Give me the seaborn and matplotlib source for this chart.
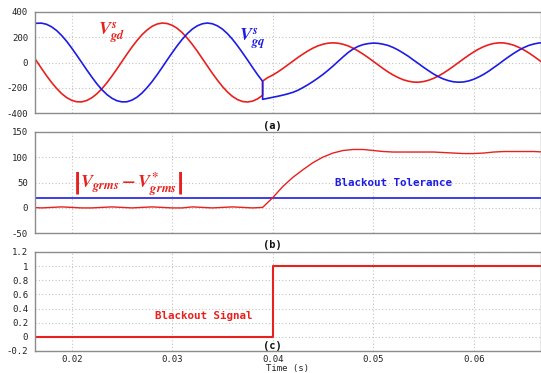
"""
Grid voltage blackout detection
- (a) dq grid voltages
- (b) rms voltage error vs blackout tolerance
- (c) blackout signal
"""

import matplotlib
matplotlib.use('Agg')
import matplotlib.pyplot as plt
import seaborn as sns

# ---- data (time in s) ----
# panel (a): before the disturbance, 0.5 ms samples
t_pre = [0.0160, 0.0165, 0.0170, 0.0175, 0.0180, 0.0185, 0.0190, 0.0195,
         0.0200, 0.0205, 0.0210, 0.0215, 0.0220, 0.0225, 0.0230, 0.0235,
         0.0240, 0.0245, 0.0250, 0.0255, 0.0260, 0.0265, 0.0270, 0.0275,
         0.0280, 0.0285, 0.0290, 0.0295, 0.0300, 0.0305, 0.0310, 0.0315,
         0.0320, 0.0325, 0.0330, 0.0335, 0.0340, 0.0345, 0.0350, 0.0355,
         0.0360, 0.0365, 0.0370, 0.0375, 0.0380, 0.0385, 0.0390]
vgd_pre = [70, 12, -47, -104, -157, -204, -245, -276,
           -298, -309, -310, -299, -278, -247, -207, -160,
           -107, -51, 8, 66, 122, 173, 219, 256,
           285, 303, 311, 307, 293, 269, 235, 192,
           143, 89, 31, -27, -85, -139, -189, -232,
           -267, -292, -307, -311, -304, -286, -258]
vgq_pre = [296, 309, 310, 301, 281, 252, 213, 167,
           114, 58, 0, -58, -114, -167, -213, -252,
           -281, -301, -310, -309, -296, -273, -240, -198,
           -150, -96, -39, 20, 77, 132, 183, 227,
           263, 289, 305, 311, 305, 289, 263, 227,
           183, 132, 77, 20, -39, -96, -148]

# panel (a): after the disturbance
t_post = [0.0390, 0.0395, 0.0400, 0.0405, 0.0410, 0.0415, 0.0420, 0.0425,
          0.0430, 0.0435, 0.0440, 0.0445, 0.0450, 0.0455, 0.0460, 0.0465,
          0.0470, 0.0475, 0.0480, 0.0485, 0.0490, 0.0495, 0.0500, 0.0505,
          0.0510, 0.0515, 0.0520, 0.0525, 0.0530, 0.0535, 0.0540, 0.0545,
          0.0550, 0.0555, 0.0560, 0.0565, 0.0570, 0.0575, 0.0580, 0.0585,
          0.0590, 0.0595, 0.0600, 0.0605, 0.0610, 0.0615, 0.0620, 0.0625,
          0.0630, 0.0635, 0.0640, 0.0645, 0.0650, 0.0655, 0.0660, 0.0665,
          0.0670]
vgd_post = [-146, -119, -99, -75, -48, -19, 10, 39,
            66, 91, 113, 131, 144, 152, 155, 152,
            144, 131, 113, 91, 66, 39, 10, -19,
            -48, -75, -99, -119, -136, -147, -154, -155,
            -150, -140, -125, -106, -83, -57, -29, 0,
            29, 57, 83, 106, 125, 140, 150, 155,
            154, 147, 136, 119, 99, 75, 48, 19,
            -10]
vgq_post = [-290, -282, -274, -266, -257, -247, -235, -219,
            -198, -175, -150, -123, -94, -62, -28, 8,
            44, 78, 106, 127, 141, 149, 153, 151,
            144, 134, 118, 98, 74, 49, 20, -8,
            -37, -64, -90, -112, -130, -143, -152, -155,
            -153, -145, -132, -114, -93, -68, -40, -12,
            18, 46, 73, 97, 118, 135, 146, 154,
            155]

# panel (b): |Vgrms - Vgrms*|
t_rms = [0.016, 0.017, 0.018, 0.019, 0.020, 0.021, 0.022, 0.023, 0.024, 0.025,
         0.026, 0.027, 0.028, 0.029, 0.030, 0.031, 0.032, 0.033, 0.034, 0.035,
         0.036, 0.037, 0.038, 0.039, 0.040, 0.041, 0.042, 0.043, 0.044, 0.045,
         0.046, 0.047, 0.048, 0.049, 0.050, 0.051, 0.052, 0.053, 0.054, 0.055,
         0.056, 0.057, 0.058, 0.059, 0.060, 0.061, 0.062, 0.063, 0.064, 0.065,
         0.066, 0.067]
v_err = [1, 0, 1, 2, 1, 0, 0, 1, 2, 1,
         0, 1, 2, 1, 0, 0, 2, 1, 0, 1,
         2, 1, 0, 1, 20, 42, 60, 75, 89, 100,
         108, 113, 115, 115, 113, 111, 110, 110, 110, 110,
         110, 109, 108, 107, 107, 108, 110, 111, 111, 111,
         111, 110]
t_tol = [0.016, 0.067]
v_tol = [20, 20]

# panel (c): blackout signal
t_sig = [0.016, 0.040, 0.067]
v_sig = [0, 1, 1]

x_ticks = [0.02, 0.03, 0.04, 0.05, 0.06]
x_labels = ['0.02', '0.03', '0.04', '0.05', '0.06']
a_ticks = [-400, -200, 0, 200, 400]
b_ticks = [-50, 0, 50, 100, 150]
c_ticks = [-0.2, 0, 0.2, 0.4, 0.6, 0.8, 1, 1.2]
c_labels = ['-0.2', '0', '0.2', '0.4', '0.6', '0.8', '1', '1.2']

RED = '#e8201e'
BLUE = '#1c1ce6'

sns.set_style('white')
plt.rcParams['font.family'] = ['DejaVu Sans Mono']
plt.rcParams['mathtext.fontset'] = 'custom'
plt.rcParams['mathtext.rm'] = 'STIXGeneral:bold'
plt.rcParams['mathtext.it'] = 'STIXGeneral:italic:bold'
plt.rcParams['mathtext.bf'] = 'STIXGeneral:bold'

fig = plt.figure(figsize=(5.41, 3.73), dpi=100)
ax_a = fig.add_axes([0.0647, 0.6962, 0.9353, 0.2724])
ax_b = fig.add_axes([0.0647, 0.3745, 0.9353, 0.2724])
ax_c = fig.add_axes([0.0647, 0.0590, 0.9353, 0.2654])

# (a)
t_a = t_pre + t_post
sns.lineplot(x=t_a, y=vgd_pre + vgd_post, ax=ax_a, color=RED, lw=1.2,
             estimator=None, sort=False)
sns.lineplot(x=t_a, y=vgq_pre + vgq_post, ax=ax_a, color=BLUE, lw=1.2,
             estimator=None, sort=False)
ax_a.set_ylim(-400, 400)
ax_a.set_yticks(a_ticks)
ax_a.set_yticklabels([str(v) for v in a_ticks])

# (b)
sns.lineplot(x=t_tol, y=v_tol, ax=ax_b, color=BLUE, lw=1.2, estimator=None)
sns.lineplot(x=t_rms, y=v_err, ax=ax_b, color=RED, lw=1.0,
             estimator=None, sort=False)
ax_b.set_ylim(-50, 150)
ax_b.set_yticks(b_ticks)
ax_b.set_yticklabels([str(v) for v in b_ticks])

# (c)
sns.lineplot(x=t_sig, y=v_sig, ax=ax_c, color=RED, lw=1.5,
             estimator=None, drawstyle='steps-post')
ax_c.set_ylim(-0.2, 1.2)
ax_c.set_yticks(c_ticks)
ax_c.set_yticklabels(c_labels)

for ax in (ax_a, ax_b, ax_c):
    ax.set_xlim(0.01635, 0.0667)
    ax.set_xticks(x_ticks)
    ax.set_xlabel('')
    ax.set_ylabel('')
    ax.grid(True, color='#c4c4c4', linestyle=(0, (1, 2)), lw=0.8)
    ax.tick_params(length=0, pad=5, labelsize=6.5, colors='#222222')
    for s in ax.spines.values():
        s.set_color('#8c8c8c')
        s.set_linewidth(1.0)
ax_a.tick_params(labelbottom=False)
ax_b.tick_params(labelbottom=False)
ax_c.tick_params(axis='x', pad=3)
ax_c.set_xticklabels(x_labels)

# labels
ax_a.text(0.0226, 220, r'$V_{gd}^{s}$', color=RED, fontsize=13)
ax_a.text(0.0366, 170, r'$V_{gq}^{s}$', color=BLUE, fontsize=13)
ax_b.text(0.0256, 47, r'$\left|V_{grms}-V_{grms}^{*}\right|$', color=RED,
          fontsize=13, ha='center', va='center')
ax_b.text(0.0520, 49, 'Blackout Tolerance', color=BLUE, fontsize=7.8,
          fontweight='bold', ha='center', va='center')
ax_c.text(0.0331, 0.295, 'Blackout Signal', color=RED, fontsize=7.8,
          fontweight='bold', ha='center', va='center')

for label, y in (('(a)', 126), ('(b)', 245), ('(c)', 346)):
    fig.text(272 / 541, 1 - y / 373, label, fontsize=7.5, fontweight='bold',
             ha='center', va='center', color='#111111')
fig.text(288 / 541, 1 - 368 / 373, 'Time (s)', fontsize=6.5,
         ha='center', va='center', color='#222222')

fig.savefig('out.png', dpi=100)
